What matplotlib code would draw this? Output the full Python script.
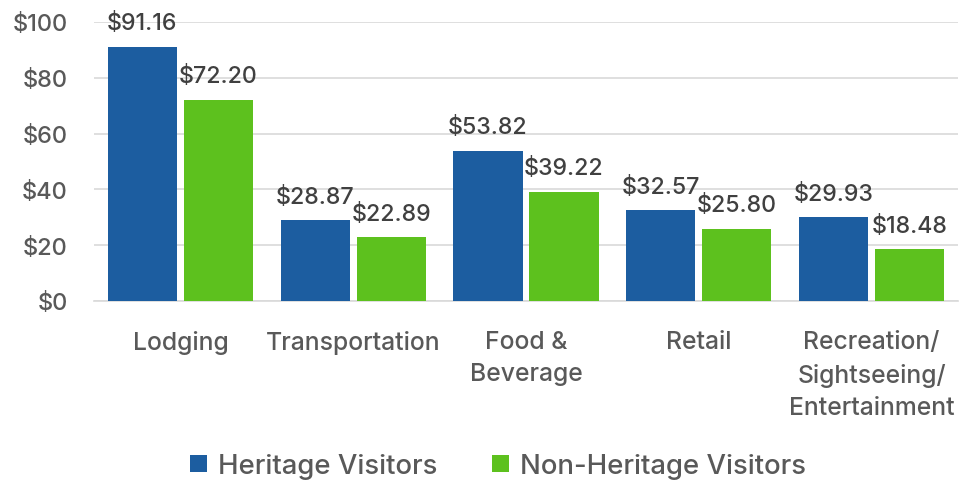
import matplotlib
matplotlib.use("Agg")
import matplotlib.pyplot as plt
import numpy as np

categories = ["Lodging", "Transportation", "Food &\nBeverage", "Retail",
              "Recreation/\nSightseeing/\nEntertainment"]
heritage = [91.16, 28.87, 53.82, 32.57, 29.93]
non_heritage = [72.20, 22.89, 39.22, 25.80, 18.48]
series_names = ["Heritage Visitors", "Non-Heritage Visitors"]
yticks = [0, 20, 40, 60, 80, 100]

plt.rcParams['font.family'] = ['Inter', 'DejaVu Sans']
plt.rcParams['font.weight'] = 500

blue = "#1C5DA0"
green = "#5DC11E"
txt = "#404040"
tick_c = "#595959"

fig = plt.figure(figsize=(9.65, 4.85), dpi=100)
ax = fig.add_axes([94/965, (485-302)/485, (958-94)/965, 279/485])

x = np.arange(len(categories))
w = 0.40
off = 0.22
b1 = ax.bar(x - off, heritage, w, color=blue, label=series_names[0], zorder=3)
b2 = ax.bar(x + off, non_heritage, w, color=green, label=series_names[1], zorder=3)

for bars, vals in ((b1, heritage), (b2, non_heritage)):
    for r, v in zip(bars, vals):
        ax.text(r.get_x() + r.get_width()/2, v + 4.5, f"${v:.2f}",
                ha='center', va='bottom', fontsize=16.7, color=txt)

ax.set_xlim(-0.5, len(categories) - 0.5)
ax.set_ylim(0, 100)
ax.set_yticks(yticks)
ax.set_yticklabels([f"${t}" for t in yticks], fontsize=17, color=tick_c)
ax.set_xticks(x)
ax.set_xticklabels(categories, fontsize=17.8, color=tick_c, linespacing=1.5, va='top')
ax.tick_params(axis='both', length=0)
ax.tick_params(axis='x', pad=21)
ax.tick_params(axis='y', pad=19)

ax.grid(axis='y', color="#d9d9d9", linewidth=1.2, zorder=0)
for s in ['top', 'right', 'left']:
    ax.spines[s].set_visible(False)
ax.spines['bottom'].set_color("#d9d9d9")
ax.spines['bottom'].set_linewidth(1.2)

leg = fig.legend(handles=[b1, b2], labels=series_names, loc='center',
                 bbox_to_anchor=(498/965, 1 - 467/485), ncol=2, frameon=False,
                 fontsize=19.8, handlelength=0.6, handleheight=0.6,
                 handletextpad=0.4, columnspacing=2.0)
for t in leg.get_texts():
    t.set_color(tick_c)

fig.savefig("out.png", dpi=100)
